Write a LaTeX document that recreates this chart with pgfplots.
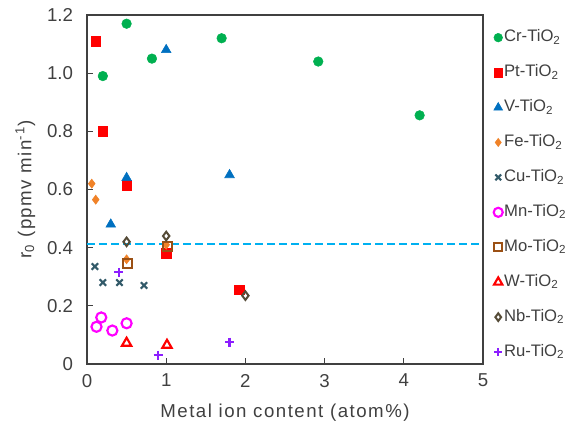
\documentclass[border=0pt]{standalone}
\usepackage{fontspec}
\setmainfont{Liberation Sans}
\usepackage{pgfplots}
\pgfplotsset{compat=1.18}
\definecolor{crg}{RGB}{0,176,80}
\definecolor{ptr}{RGB}{255,0,0}
\definecolor{vb}{RGB}{0,112,192}
\definecolor{feo}{RGB}{240,130,40}
\definecolor{cut}{RGB}{50,90,105}
\definecolor{mnm}{RGB}{255,0,255}
\definecolor{mob}{RGB}{155,80,20}
\definecolor{nbd}{RGB}{85,75,55}
\definecolor{rup}{RGB}{140,30,255}
\definecolor{refline}{RGB}{0,176,240}
\begin{document}
\begin{tikzpicture}
\begin{axis}[
width=297pt,height=261.75pt,scale only axis,
xmin=0,xmax=5,ymin=0,ymax=1.2,
xtick={0,1,2,3,4,5},
ytick={0,0.2,0.4,0.6,0.8,1.0,1.2},
yticklabels={0,0.2,0.4,0.6,0.8,1.0,1.2},
tick align=inside,xtick pos=bottom,ytick pos=left,
major tick length=4.5pt,
axis line style={black!75,line width=0.8pt},
tick style={black!75,line width=0.8pt},
tick label style={font=\fontsize{14}{16}\selectfont,text=black!75},
yticklabel style={xshift=-7pt},
xticklabel style={yshift=-4pt},
/pgf/number format/assume math mode=true,
xlabel={Metal ion content (atom\%)},
ylabel={r\textsubscript{0} (ppmv min\textsuperscript{-1})},
label style={font=\fontsize{14}{16}\selectfont\addfontfeatures{LetterSpace=8},text=black!75},
xlabel style={yshift=-6pt},
ylabel style={yshift=2pt},
legend style={at={(1,1)},anchor=north west,xshift=8pt,yshift=-10pt,draw=none,fill=none,
  inner sep=0pt,outer sep=0pt,row sep=12.2pt,
  font=\fontsize{12.5}{14}\selectfont,text=black!75,
  nodes={text height=9pt,text depth=3pt,inner sep=1pt}},
legend cell align=left,
legend image code/.code={\draw[mark repeat=2,mark phase=2,scale=0.9]
  plot coordinates {(0cm,0cm) (0.12cm,0cm) (0.28cm,0cm)};},
]
\addplot[only marks,mark=*,mark size=3.6pt,draw=crg,fill=crg] coordinates {
(0.20,0.99) (0.50,1.17) (0.82,1.05) (1.70,1.12) (2.92,1.04) (4.20,0.855)};
\addlegendentry{Cr-TiO\textsubscript{2}}
\addplot[only marks,mark=square*,mark size=3.6pt,draw=ptr,fill=ptr] coordinates {
(0.11,1.11) (0.20,0.80) (0.50,0.615) (1.00,0.38) (1.92,0.255)};
\addlegendentry{Pt-TiO\textsubscript{2}}
\addplot[only marks,mark=triangle*,mark size=4.2pt,draw=vb,fill=vb] coordinates {
(1.00,1.08) (0.50,0.64) (0.30,0.48) (1.80,0.65)};
\addlegendentry{V-TiO\textsubscript{2}}
\addplot[only marks,mark=diamond*,mark size=3.4pt,draw=feo,fill=feo] coordinates {
(0.06,0.62) (0.11,0.565) (0.50,0.36) (1.00,0.41)};
\addlegendentry{Fe-TiO\textsubscript{2}}
\addplot[only marks,mark=x,mark size=3.4pt,line width=1.6pt,draw=cut] coordinates {
(0.10,0.335) (0.20,0.28) (0.41,0.28) (0.72,0.27)};
\addlegendentry{Cu-TiO\textsubscript{2}}
\addplot[only marks,mark=o,mark size=3.8pt,line width=1.6pt,draw=mnm] coordinates {
(0.12,0.128) (0.18,0.16) (0.32,0.115) (0.50,0.14)};
\addlegendentry{Mn-TiO\textsubscript{2}}
\addplot[only marks,mark=square,mark size=3.4pt,line width=1.6pt,draw=mob] coordinates {
(0.51,0.345) (1.02,0.405)};
\addlegendentry{Mo-TiO\textsubscript{2}}
\addplot[only marks,mark=triangle,mark size=4pt,line width=1.6pt,draw=ptr] coordinates {
(0.50,0.072) (1.01,0.065)};
\addlegendentry{W-TiO\textsubscript{2}}
\addplot[only marks,mark=diamond,mark size=3.2pt,line width=1.5pt,draw=nbd] coordinates {
(0.50,0.42) (1.00,0.44) (2.00,0.235)};
\addlegendentry{Nb-TiO\textsubscript{2}}
\addplot[only marks,mark=+,mark size=3.4pt,line width=1.6pt,draw=rup] coordinates {
(0.40,0.315) (0.90,0.03) (1.80,0.075)};
\addlegendentry{Ru-TiO\textsubscript{2}}
\addplot[refline,line width=1.6pt,dash pattern=on 6pt off 3pt,forget plot] coordinates {
(0,0.414) (5,0.414)};
\end{axis}
\pgfresetboundingbox
\path ([shift={(-65.25pt,-54.75pt)}]current axis.south west)
  rectangle ([shift={(69pt,11.25pt)}]current axis.north east);
\end{tikzpicture}
\end{document}
